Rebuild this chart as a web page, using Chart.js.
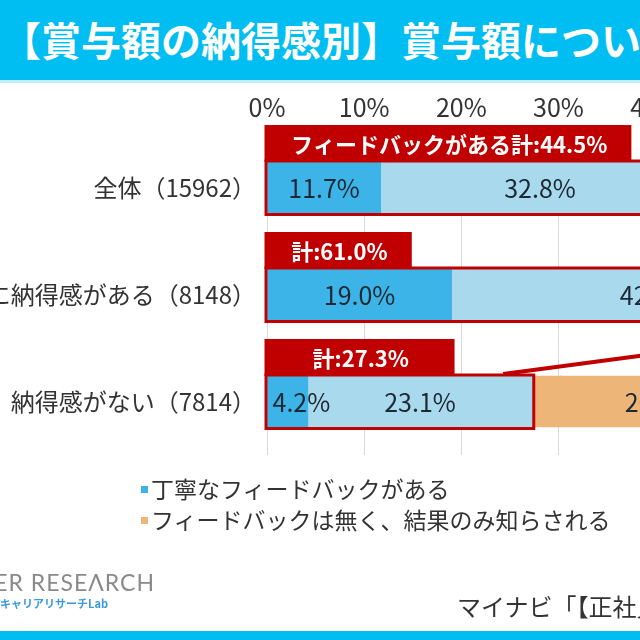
<!DOCTYPE html>
<html lang="ja">
<head>
<meta charset="utf-8">
<script src="https://cdn.jsdelivr.net/npm/chart.js@4.4.0/dist/chart.umd.min.js"></script>
<style>
  html, body { margin: 0; padding: 0; background: #fff; }
  #stage { position: relative; width: 640px; height: 640px; overflow: hidden; background: #fff;
           font-family: "Noto Sans CJK JP", "Noto Sans", sans-serif; }
  #chart { position: absolute; left: 0; top: 0; }
  #band { position: absolute; left: 0; top: 0; width: 640px; height: 80px; background: #00BDF2;
          border-bottom: 3px solid #c4eefb; }
  #title { position: absolute; left: 1px; top: -1px; height: 80px; line-height: 80px; color: #fff;
           font-size: 40px; font-weight: 700; white-space: nowrap; }
  .lg { position: absolute; height: 30px; line-height: 30px; font-size: 23px; color: #333; white-space: nowrap; }
  .lg i { display: inline-block; width: 7px; height: 7px; margin-right: 3px; vertical-align: middle;
          position: relative; top: -2px; }
  #logo1 { position: absolute; right: 485px; top: 568px; font-family: Lato, sans-serif; font-size: 23px;
           color: #8a8a8a; white-space: nowrap; letter-spacing: 1px; line-height: 28px; }
  #logo2 { position: absolute; right: 532px; top: 595px; font-size: 11px; font-weight: 700; color: #3a9ad9;
           white-space: nowrap; line-height: 16px; }
  #source { position: absolute; left: 457px; top: 591px; font-size: 24px; color: #333; white-space: nowrap;
            line-height: 30px; }
  #bottomband { position: absolute; left: 0; top: 631px; width: 640px; height: 9px; background: #00BDF2; }
</style>
</head>
<body>
<div id="stage">
  <canvas id="chart" width="1283" height="640"></canvas>
  <div id="band"><div id="title">【賞与額の納得感別】賞与額についてのフィードバック</div></div>
  <div id="legend"></div>
  <div id="logo1">MYNAVI CAREER RESEΛRCH</div>
  <div id="logo2">マイナビキャリアリサーチLab</div>
  <div id="source">マイナビ「【正社員】賞与に関する調査」</div>
  <div id="bottomband"></div>
</div>
<script>
// ---- data ----
const categories = ['全体（15962）', '賞与額に納得感がある（8148）', '納得感がない（7814）'];
const seriesNames = ['丁寧なフィードバックがある', '簡単なフィードバックがある', 'フィードバックは無く、結果のみ知らされる'];
const detailedFeedback = [11.7, 19.0, 4.2];
const simpleFeedback   = [32.8, 42.0, 23.1];
const resultOnly       = [38.0, 27.0, 26.4];
const axisTicks = [0, 10, 20, 30, 40, 50, 60, 70, 80, 90, 100];

// ---- styles ----
const COLORS = ['#3DB4E7', '#A9D9ED', '#EDB577'];
const RED = '#C00000';
const FONT = '"Noto Sans CJK JP", "Noto Sans", sans-serif';

const overlay = {
  id: 'overlay',
  afterDatasetsDraw(chart, args, opts) {
    const { ctx, scales: { x } } = chart;
    const x0 = x.getPixelForValue(0);
    ctx.save();
    // value labels
    chart.data.datasets.forEach((ds, di) => {
      const meta = chart.getDatasetMeta(di);
      meta.data.forEach((el, i) => {
        const v = ds.data[i];
        const label = v.toFixed(1) + '%';
        ctx.font = '25px ' + FONT;
        ctx.fillStyle = '#1c2833';
        ctx.textBaseline = 'middle';
        const w = ctx.measureText(label).width;
        const left = Math.min(el.base, el.x), right = Math.max(el.base, el.x);
        if (w + 8 > right - left) {
          ctx.textAlign = 'left';
          ctx.fillText(label, left + 5, el.y + 1);
        } else {
          ctx.textAlign = 'center';
          ctx.fillText(label, (left + right) / 2, el.y + 1);
        }
      });
    });
    // outlines + tabs
    const meta0 = chart.getDatasetMeta(0);
    categories.forEach((c, i) => {
      const bar = meta0.data[i];
      const top = bar.y - bar.height / 2, bottom = bar.y + bar.height / 2;
      const total = detailedFeedback[i] + simpleFeedback[i];
      const xEnd = x.getPixelForValue(total);
      ctx.strokeStyle = RED; ctx.lineWidth = 3;
      ctx.strokeRect(x0 - 1, top - 1, xEnd - x0 + 2.5, bottom - top + 2.5);
      const tabEnd = x.getPixelForValue(opts.tabEnds[i]);
      ctx.fillStyle = RED;
      ctx.fillRect(x0 - 2.5, top - opts.tabHeight, tabEnd - x0 + 2.5, opts.tabHeight);
      ctx.fillStyle = '#fff';
      ctx.font = 'bold 22px ' + FONT;
      ctx.textAlign = 'center'; ctx.textBaseline = 'middle';
      const text = (i === 0 ? opts.firstPrefix : '') + '計:' + total.toFixed(1) + '%';
      ctx.fillText(text, (x0 + tabEnd) / 2, top - opts.tabHeight / 2 + 1);
      if (i === opts.callout.row) {
        ctx.strokeStyle = RED; ctx.lineWidth = 4;
        ctx.beginPath();
        ctx.moveTo(x.getPixelForValue(opts.callout.from), top - 2);
        ctx.lineTo(x.getPixelForValue(opts.callout.to), top - 2 - opts.callout.rise);
        ctx.stroke();
      }
    });
    ctx.restore();
  }
};

const chart = new Chart(document.getElementById('chart'), {
  type: 'bar',
  data: {
    labels: categories,
    datasets: [
      { label: seriesNames[0], data: detailedFeedback, backgroundColor: COLORS[0] },
      { label: seriesNames[1], data: simpleFeedback, backgroundColor: COLORS[1] },
      { label: seriesNames[2], data: resultOnly, backgroundColor: COLORS[2] }
    ]
  },
  options: {
    indexAxis: 'y',
    responsive: false,
    animation: false,
    devicePixelRatio: 1,
    layout: { padding: { top: 88, left: 0, right: 20, bottom: 185 } },
    datasets: { bar: { barThickness: 51, borderWidth: 0 } },
    plugins: {
      legend: { display: false },
      tooltip: { enabled: false },
      overlay: {
        tabEnds: [37.5, 14.9, 19.3],
        tabHeight: 37,
        firstPrefix: 'フィードバックがある',
        callout: { row: 2, from: 24.3, to: 60, rise: 46 }
      }
    },
    scales: {
      x: {
        position: 'top', stacked: true, min: 0, max: 100,
        afterBuildTicks: (s) => { s.ticks = axisTicks.map(v => ({ value: v })); },
        afterFit: (s) => { s.height = 46; },
        grid: { color: '#d9d9d9', lineWidth: 1, drawTicks: false },
        border: { display: false },
        ticks: { padding: 12, color: '#333', font: { size: 25, family: FONT },
                 callback: (v) => v + '%' }
      },
      y: {
        stacked: true,
        afterFit: (s) => { s.width = 267; },
        grid: { display: false, drawTicks: false },
        border: { display: false },
        ticks: { padding: 11, color: '#333', font: { size: 24, family: FONT } }
      }
    }
  },
  plugins: [overlay]
});

// legend (column 1 visible, column 2 outside the crop)
const legendLayout = [
  { idx: 0, left: 141, top: 473 },
  { idx: 2, left: 141, top: 504 },
  { idx: 1, left: 700, top: 473 }
];
const lg = document.getElementById('legend');
legendLayout.forEach(it => {
  const d = document.createElement('div');
  d.className = 'lg';
  d.style.left = it.left + 'px';
  d.style.top = it.top + 'px';
  const sq = document.createElement('i');
  sq.style.background = COLORS[it.idx];
  d.appendChild(sq);
  d.appendChild(document.createTextNode(seriesNames[it.idx]));
  lg.appendChild(d);
});
</script>
</body>
</html>
